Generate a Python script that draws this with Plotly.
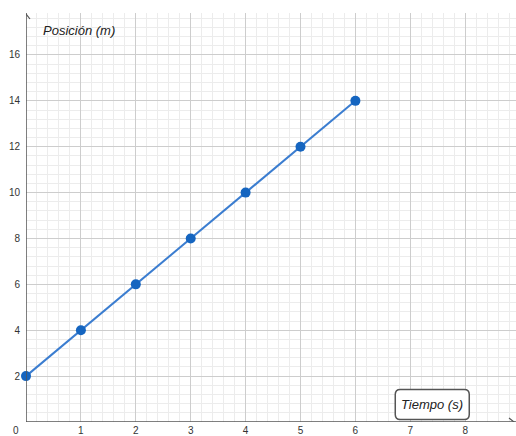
import plotly.graph_objects as go

tiempo = [0, 1, 2, 3, 4, 5, 6]
posicion = [2, 4, 6, 8, 10, 12, 14]
x_ticks = [1, 2, 3, 4, 5, 6, 7, 8]
y_ticks = [2, 4, 6, 8, 10, 12, 14, 16]

W, H = 516, 436
ml, mr, mt, mb = 26, 0, 13, 14
px_x = 54.9
px_y = 22.94
xmax = (W - ml - mr) / px_x
ymax = (H - mt - mb) / px_y

fig = go.Figure()
fig.add_trace(go.Scatter(
    x=tiempo, y=posicion, mode="lines+markers",
    line=dict(color="#3b7dd0", width=2),
    marker=dict(color="#1565c0", size=10),
    cliponaxis=False, hoverinfo="skip",
))

font = dict(family="Liberation Sans, Arial, sans-serif", size=10, color="#333333")

fig.update_layout(
    width=W, height=H,
    margin=dict(l=ml, r=mr, t=mt, b=mb, pad=0),
    paper_bgcolor="white", plot_bgcolor="white",
    showlegend=False,
    font=font,
    xaxis=dict(
        range=[0, xmax], tickvals=x_ticks, ticks="", showline=False,
        zeroline=False, showgrid=True, gridcolor="#cdcdcd", gridwidth=1,
        minor=dict(dtick=0.2, showgrid=True, gridcolor="#ececec", gridwidth=1),
        tickfont=font, fixedrange=True, automargin=False, ticklabelstandoff=1,
    ),
    yaxis=dict(
        range=[0, ymax], tickvals=y_ticks, ticks="", showline=False,
        zeroline=False, showgrid=True, gridcolor="#cdcdcd", gridwidth=1,
        minor=dict(dtick=0.4, showgrid=True, gridcolor="#ececec", gridwidth=1),
        tickfont=font, fixedrange=True, automargin=False, ticklabelstandoff=5,
    ),
)

axis_col = "#555555"
fig.add_shape(type="line", xref="paper", yref="y", x0=0, x1=1, y0=0, y1=0,
              line=dict(color=axis_col, width=1.5))
fig.add_shape(type="line", xref="x", yref="paper", x0=0, x1=0, y0=0, y1=1,
              line=dict(color=axis_col, width=1.5))
fig.add_shape(type="path", xref="paper", yref="y", xsizemode="pixel", ysizemode="pixel",
              xanchor=1, yanchor=0, path="M -7,4 L -2,0 L -7,-4",
              line=dict(color=axis_col, width=1.2))
fig.add_shape(type="path", xref="x", yref="paper", xsizemode="pixel", ysizemode="pixel",
              xanchor=0, yanchor=1, path="M -4,-6 L 0,-1 L 4,-6",
              line=dict(color=axis_col, width=1.2))

fig.add_annotation(x=0, y=0, xref="x", yref="y", text="0", showarrow=False,
                   xshift=-10, yshift=-8, font=font, borderpad=0)

title_font = dict(family="Liberation Sans, Arial, sans-serif", size=13, color="#222222")
fig.add_annotation(x=0, y=1, xref="paper", yref="paper", xanchor="left", yanchor="top",
                   xshift=15, yshift=-8, text="<i>Posición (m)</i>", showarrow=False,
                   font=title_font)

bx, by = 7.4, 0.76
fig.add_shape(type="path", xref="x", yref="y", xsizemode="pixel", ysizemode="pixel",
              xanchor=bx, yanchor=by,
              path="M -32,-15 L 32,-15 Q 37,-15 37,-10 L 37,10 Q 37,15 32,15 L -32,15 "
                   "Q -37,15 -37,10 L -37,-10 Q -37,-15 -32,-15 Z",
              line=dict(color="#555555", width=1.5), fillcolor="white")
fig.add_annotation(x=bx, y=by, xref="x", yref="y", text="<i>Tiempo (s)</i>",
                   showarrow=False, font=title_font)

fig.write_html(
    "out.html",
    config={"displayModeBar": False, "staticPlot": True},
    post_script="document.body.style.margin='0';document.body.style.overflow='hidden';",
)
